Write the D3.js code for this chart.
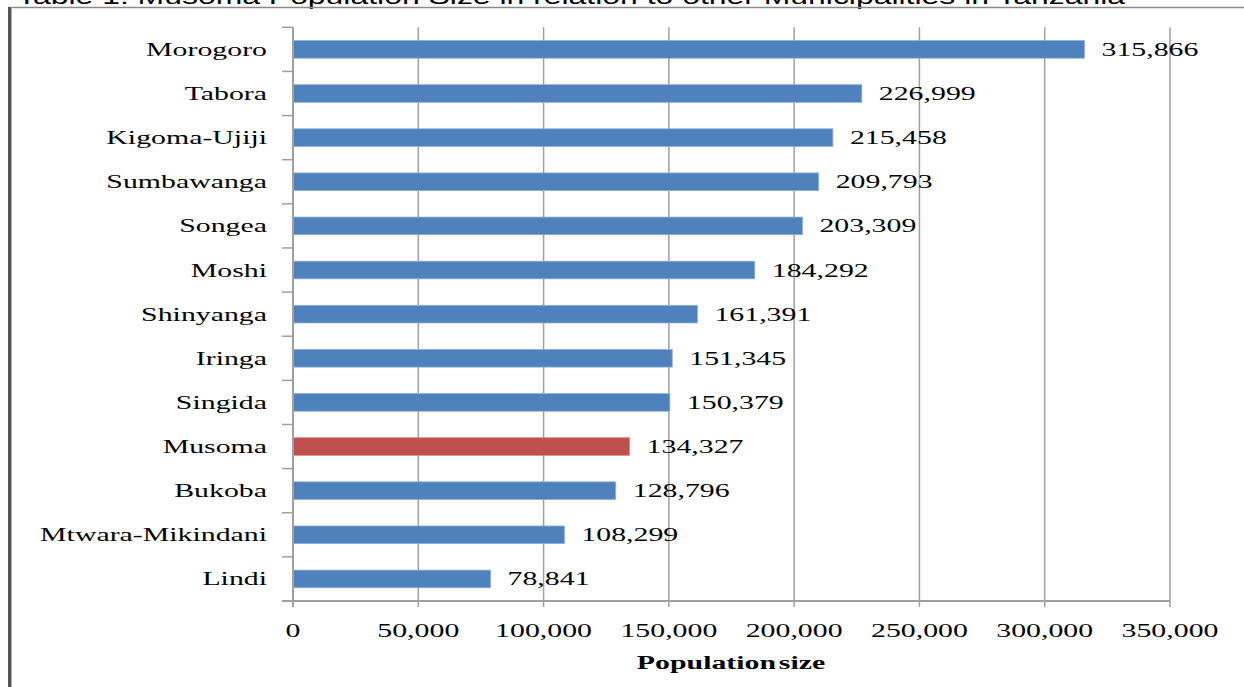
<!DOCTYPE html>
<html><head><meta charset="utf-8">
<script src="https://cdn.jsdelivr.net/npm/d3@7"></script>
<style>body{margin:0;background:#fff;overflow:hidden}svg{display:block}</style>
</head><body>
<svg id="chart" width="1244" height="687"></svg>
<script>
const categories = ["Morogoro","Tabora","Kigoma-Ujiji","Sumbawanga","Songea","Moshi","Shinyanga","Iringa","Singida","Musoma","Bukoba","Mtwara-Mikindani","Lindi"];
const populations = [315866,226999,215458,209793,203309,184292,161391,151345,150379,134327,128796,108299,78841];
const highlighted = ["Musoma"];
const xTicks = [0,50000,100000,150000,200000,250000,300000,350000];
const titleText = "Table 1: Musoma Population Size in relation to other Municipalities in Tanzania";
const xAxisTitle = "Population size";

const svg = d3.select("#chart");
const SX = 1.57;
const serif = "'Liberation Serif','Times New Roman',serif";
const fmt = d3.format(",");

const x = d3.scaleLinear().domain([0,350000]).range([293,1170]);
const y = d3.scaleBand().domain(categories).range([27.3,601]).paddingInner(0.6).paddingOuter(0.3);
const yEdge = d3.scaleLinear().domain([0,categories.length]).range([27.3,601]);

// title (cut off at top, as in the source image)
svg.append("text").attr("transform","translate(17,4)")
  .attr("font-family","'Liberation Sans',Arial,sans-serif").attr("font-size",22)
  .attr("fill","#000").attr("textLength",1108).attr("lengthAdjust","spacingAndGlyphs").text(titleText);

// frame
svg.append("line").attr("x1",9).attr("x2",1244).attr("y1",7.5).attr("y2",7.5).attr("stroke","#8a8a8a").attr("stroke-width",1.5);
svg.append("rect").attr("x",8).attr("y",7).attr("width",3).attr("height",680).attr("fill","#555");
svg.append("rect").attr("x",11).attr("y",7).attr("width",1).attr("height",680).attr("fill","#aaa");

// gridlines
svg.append("g").selectAll("line").data(xTicks.filter(d=>d>0)).join("line")
  .attr("x1",d=>x(d)).attr("x2",d=>x(d)).attr("y1",27.3).attr("y2",607)
  .attr("stroke","#a0a0a0").attr("stroke-width",1.5);

// bars
svg.append("g").selectAll("rect").data(categories).join("rect")
  .attr("x",x(0)).attr("y",d=>y(d)).attr("height",y.bandwidth())
  .attr("width",(d,i)=>x(populations[i])-x(0))
  .attr("fill",d=>highlighted.includes(d)?"#C0504D":"#4F81BD")
  .attr("stroke",d=>highlighted.includes(d)?"#d88a88":"#8fb0dc").attr("stroke-width",0.8);

// y axis line and ticks
svg.append("line").attr("x1",x(0)).attr("x2",x(0)).attr("y1",27.3).attr("y2",607).attr("stroke","#a0a0a0").attr("stroke-width",2);
svg.append("g").selectAll("line").data(d3.range(categories.length+1)).join("line")
  .attr("x1",282).attr("x2",x(0)).attr("y1",d=>yEdge(d)).attr("y2",d=>yEdge(d))
  .attr("stroke","#a0a0a0").attr("stroke-width",1.5);
// x axis line
svg.append("line").attr("x1",282).attr("x2",1170).attr("y1",601).attr("y2",601).attr("stroke","#a0a0a0").attr("stroke-width",2);

// category labels
svg.append("g").selectAll("text").data(categories).join("text")
  .attr("transform",d=>`translate(267,${y(d)+y.bandwidth()/2+6.5}) scale(${SX},1)`)
  .attr("text-anchor","end").attr("font-family",serif).attr("font-size",19).attr("fill","#000")
  .text(d=>d);

// value labels
svg.append("g").selectAll("text").data(categories).join("text")
  .attr("transform",(d,i)=>`translate(${x(populations[i])+17},${y(d)+y.bandwidth()/2+6.5}) scale(${SX},1)`)
  .attr("font-family",serif).attr("font-size",19).attr("fill","#000")
  .text((d,i)=>fmt(populations[i]));

// tick labels
svg.append("g").selectAll("text").data(xTicks).join("text")
  .attr("transform",d=>`translate(${x(d)},637) scale(${SX},1)`)
  .attr("text-anchor","middle").attr("font-family",serif).attr("font-size",19).attr("fill","#000")
  .text(d=>fmt(d));

// axis title
svg.append("text").attr("transform",`translate(731,669) scale(${SX},1)`)
  .attr("text-anchor","middle").attr("font-family",serif).attr("font-size",19).attr("font-weight","bold")
  .attr("word-spacing",-3).attr("fill","#000").text(xAxisTitle);
</script>
</body></html>
